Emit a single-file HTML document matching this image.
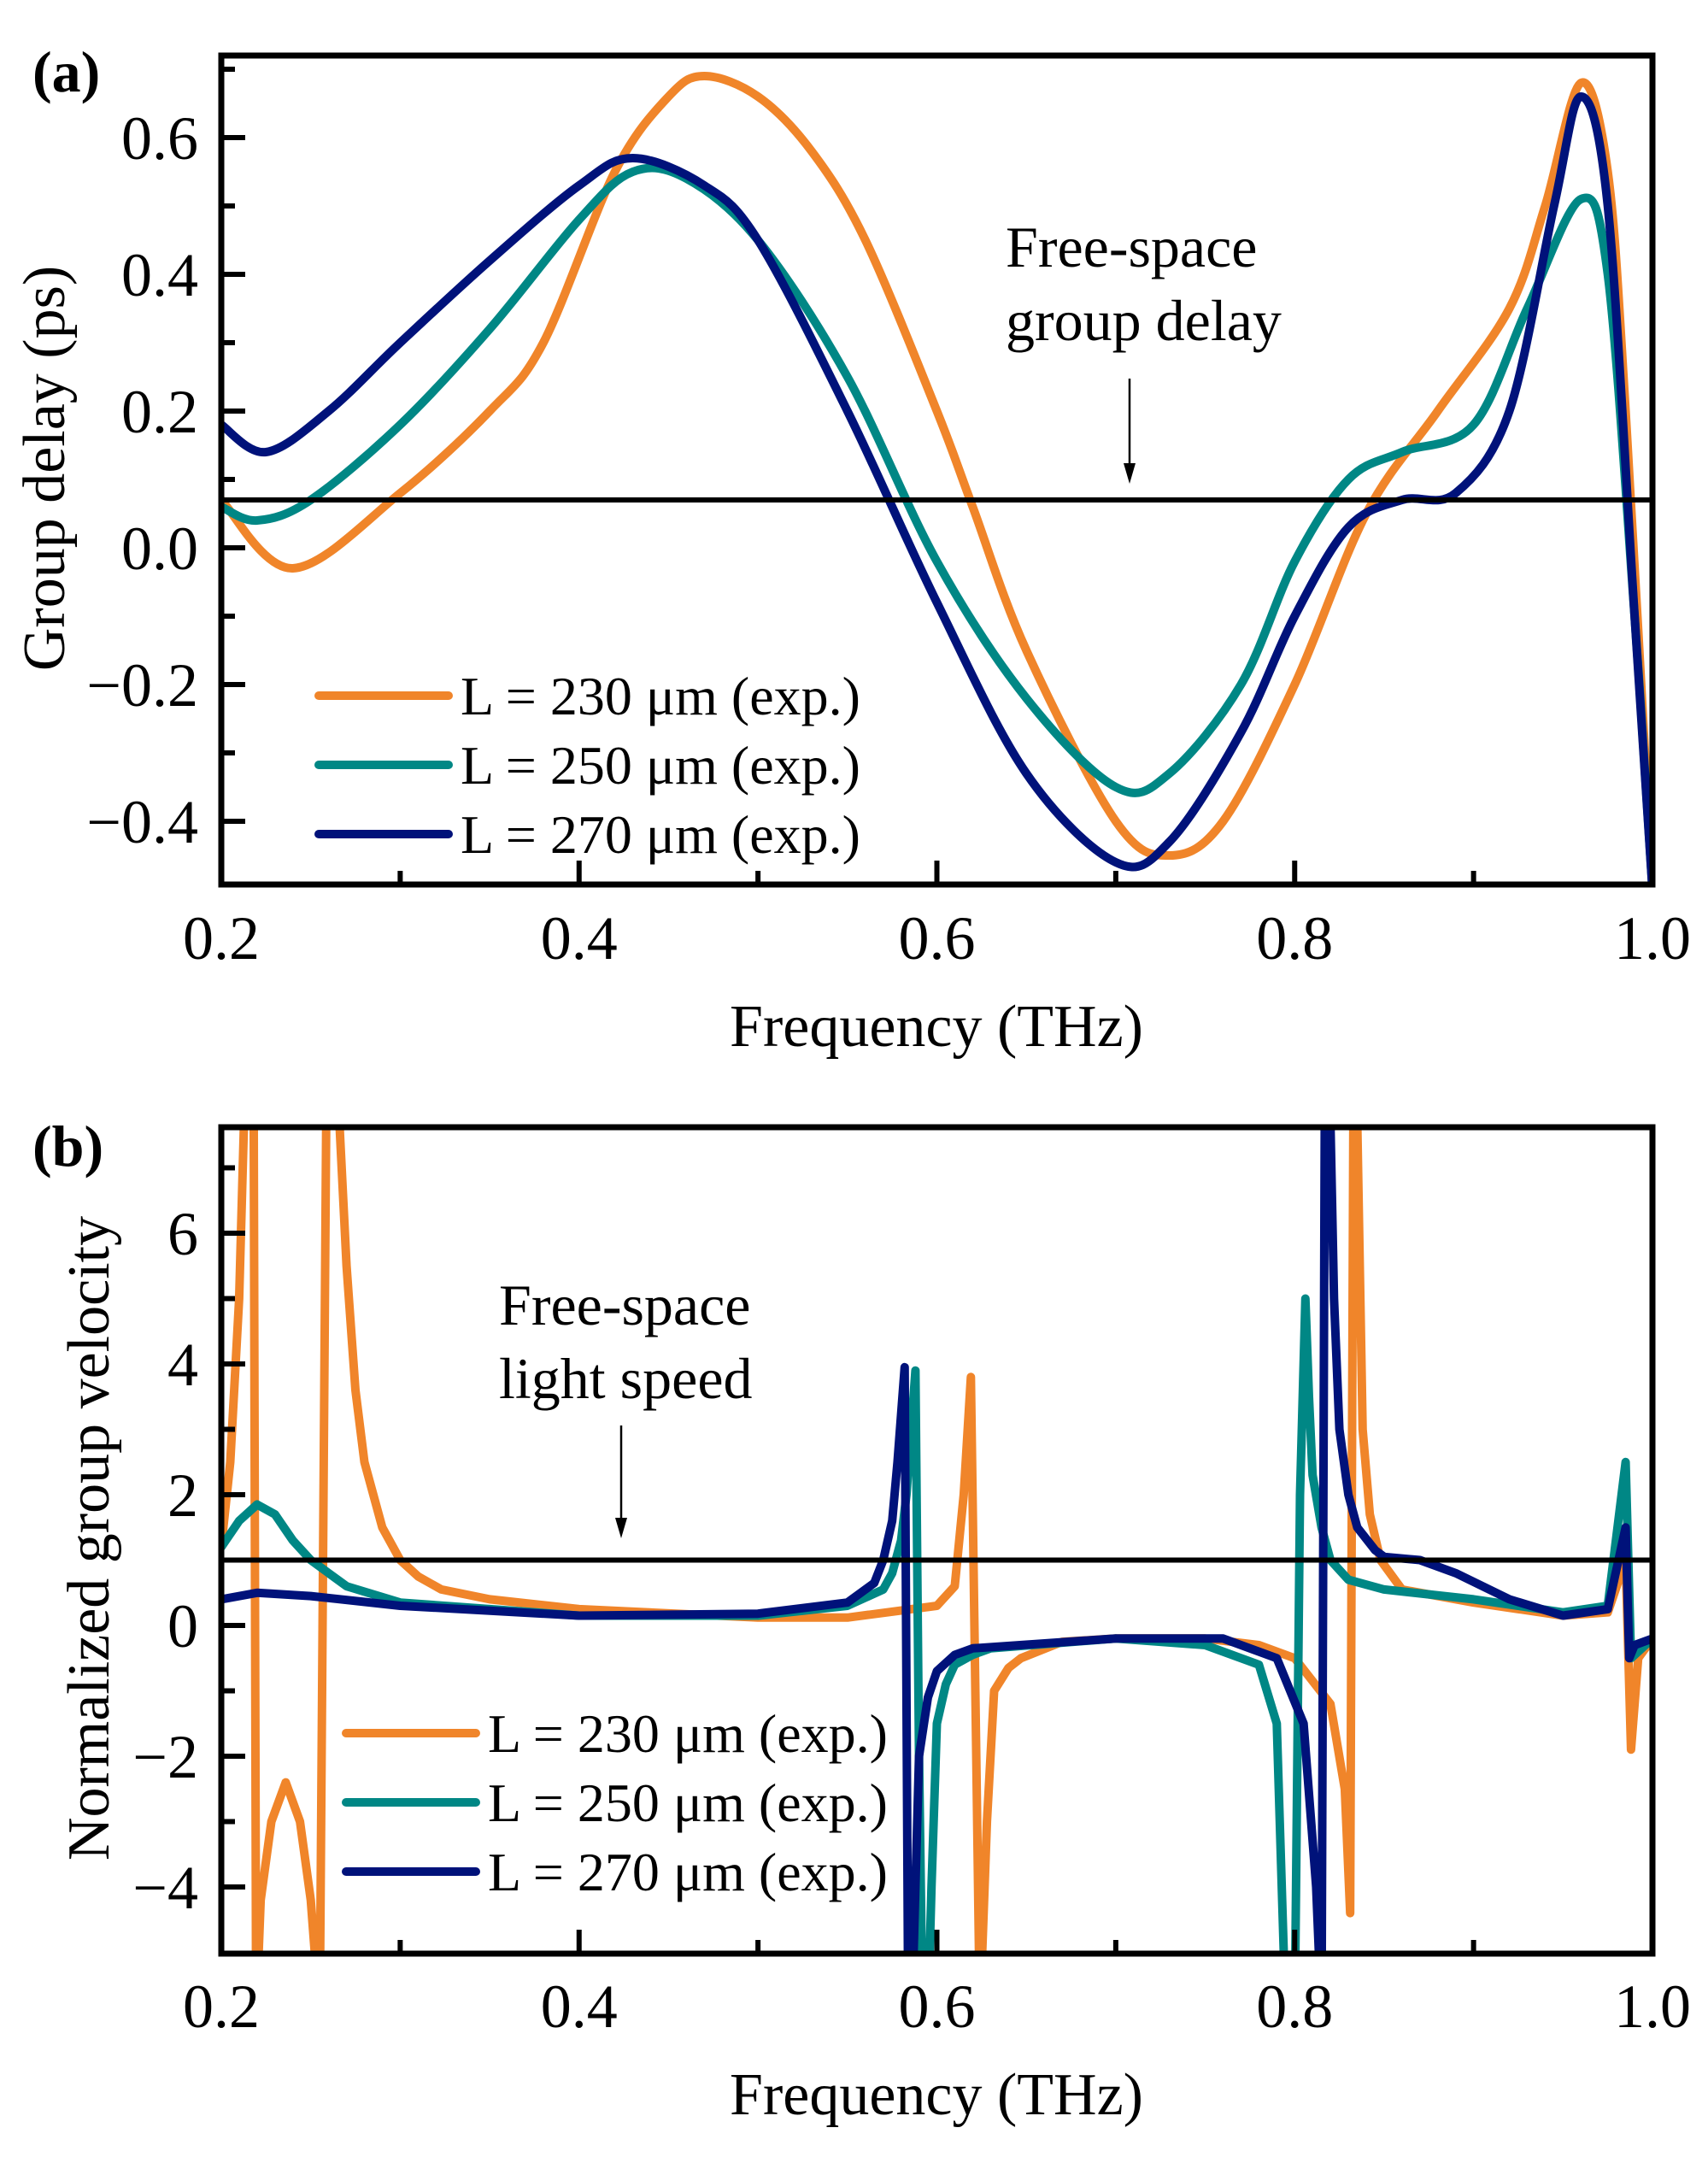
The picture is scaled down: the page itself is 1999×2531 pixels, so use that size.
<!DOCTYPE html>
<html><head><meta charset="utf-8">
<style>
html,body{margin:0;padding:0;background:#fff;}
svg{display:block;font-family:"Liberation Serif","DejaVu Serif",serif;}
</style></head>
<body>
<svg id="fig" width="1999" height="2531" viewBox="0 0 1999 2531" xmlns="http://www.w3.org/2000/svg">
<defs>
<clipPath id="clipA"><rect x="259" y="65" width="1675" height="970"/></clipPath>
<clipPath id="clipB"><rect x="259" y="1319" width="1675" height="967"/></clipPath>
</defs>
<g id="panelA"></g>
<g id="panelB"></g>
</svg>
<script>
const NS="http://www.w3.org/2000/svg";
// ---- Panel (a) data: group delay (ps) ----
const freqA230=[0.2,0.24,0.3,0.35,0.38,0.42,0.45,0.47,0.5,0.53,0.56,0.6,0.62,0.65,0.7,0.73,0.76,0.8,0.84,0.88,0.92,0.94,0.96,0.975,0.985,1.0];
const delayA230=[0.07,-0.03,0.08,0.2,0.3,0.55,0.66,0.69,0.66,0.58,0.45,0.2,0.06,-0.15,-0.4,-0.45,-0.4,-0.2,0.05,0.2,0.35,0.5,0.68,0.55,0.2,-0.5];
const freqA250=[0.2,0.22,0.25,0.3,0.35,0.4,0.43,0.46,0.5,0.55,0.6,0.65,0.7,0.73,0.77,0.8,0.83,0.86,0.9,0.93,0.96,0.975,0.99,1.0];
const delayA250=[0.06,0.04,0.07,0.18,0.32,0.48,0.55,0.54,0.45,0.25,-0.02,-0.22,-0.35,-0.33,-0.2,-0.02,0.1,0.14,0.18,0.35,0.51,0.4,-0.1,-0.5];
const freqA270=[0.2,0.225,0.26,0.3,0.35,0.4,0.43,0.47,0.5,0.55,0.6,0.65,0.7,0.73,0.77,0.8,0.83,0.86,0.89,0.92,0.945,0.96,0.975,0.99,1.0];
const delayA270=[0.18,0.14,0.2,0.3,0.42,0.53,0.57,0.53,0.45,0.2,-0.08,-0.33,-0.46,-0.43,-0.27,-0.1,0.03,0.07,0.08,0.2,0.5,0.66,0.5,-0.1,-0.5];
const freeSpaceDelay=0.07;
const yTicksA=[-0.4,-0.2,0.0,0.2,0.4,0.6];
const yTickLabelsA=["\u22120.4","\u22120.2","0.0","0.2","0.4","0.6"];
// ---- Panel (b) data: normalized group velocity ----
const freqB230=[0.2,0.205,0.21,0.214,0.218,0.2195,0.222,0.228,0.236,0.244,0.25,0.255,0.259,0.262,0.266,0.27,0.275,0.28,0.29,0.3,0.31,0.323,0.35,0.4,0.5,0.55,0.6,0.61,0.615,0.619,0.622,0.624,0.628,0.632,0.64,0.647,0.67,0.7,0.75,0.78,0.8,0.82,0.828,0.831,0.833,0.835,0.838,0.842,0.848,0.86,0.9,0.95,0.975,0.985,0.988,0.992,1.0];
const velB230=[1.2,2.5,5,9,9,-6,-4.2,-3,-2.4,-3,-4.2,-6,9,9,7.7,5.5,3.6,2.5,1.5,1.0,0.75,0.55,0.4,0.25,0.12,0.12,0.3,0.6,2,3.8,-2,-6,-3,-1,-0.65,-0.5,-0.25,-0.2,-0.2,-0.3,-0.5,-1.2,-2.5,-4.4,9,7.7,3,1.7,1.0,0.55,0.35,0.15,0.2,1.0,-1.9,-0.5,-0.2];
const freqB250=[0.2,0.21,0.22,0.23,0.24,0.25,0.27,0.3,0.4,0.5,0.55,0.57,0.575,0.58,0.583,0.588,0.59,0.592,0.595,0.597,0.6,0.605,0.61,0.62,0.63,0.7,0.75,0.78,0.79,0.795,0.8,0.803,0.806,0.808,0.81,0.815,0.82,0.83,0.85,0.9,0.95,0.975,0.985,0.988,1.0];
const velB250=[1.2,1.6,1.85,1.7,1.3,1.0,0.6,0.35,0.15,0.15,0.3,0.55,0.8,1.3,2.0,3.9,-2,-6,-6,-4,-1.5,-0.9,-0.6,-0.45,-0.35,-0.2,-0.3,-0.6,-1.5,-6,-6,2,5.0,3.5,2.3,1.5,1.0,0.7,0.55,0.4,0.2,0.3,2.5,-0.5,-0.2];
const freqB270=[0.2,0.22,0.25,0.3,0.4,0.5,0.55,0.565,0.57,0.575,0.578,0.582,0.584,0.586,0.588,0.59,0.595,0.6,0.61,0.62,0.7,0.76,0.79,0.805,0.812,0.815,0.817,0.82,0.822,0.825,0.83,0.835,0.845,0.85,0.87,0.89,0.92,0.95,0.975,0.985,0.987,0.99,1.0];
const velB270=[0.4,0.5,0.45,0.3,0.15,0.18,0.35,0.65,1.0,1.6,2.5,3.95,-6,-6,-4,-2,-1.1,-0.7,-0.45,-0.35,-0.2,-0.2,-0.5,-1.5,-4,-6,9,7.7,5,3,2,1.5,1.15,1.05,1.0,0.8,0.4,0.15,0.25,1.5,-0.5,-0.3,-0.2];
const freeSpaceSpeed=1;
const yTicksB=[-4,-2,0,2,4,6];
const yTickLabelsB=["\u22124","\u22122","0","2","4","6"];
const xTicks=[0.2,0.4,0.6,0.8,1.0];
const xTickLabels=["0.2","0.4","0.6","0.8","1.0"];
const seriesLabels=["L = 230 \u03bcm (exp.)","L = 250 \u03bcm (exp.)","L = 270 \u03bcm (exp.)"];
const colors=["#F0852A","#008785","#00127A"];

const X0=259,X1=1934;
function xs(f){return X0+(f-0.2)/0.8*(X1-X0);}
function ysA(v){return 641-v*800;}
function ysB(v){return 1902-v*76.5;}

function el(tag,attrs,parent,txt){const e=document.createElementNS(NS,tag);for(const k in attrs)e.setAttribute(k,attrs[k]);if(txt!==undefined)e.textContent=txt;parent.appendChild(e);return e;}

function catmull(pts){let d="M"+pts[0][0].toFixed(1)+","+pts[0][1].toFixed(1);
 for(let i=0;i<pts.length-1;i++){const p0=pts[Math.max(0,i-1)],p1=pts[i],p2=pts[i+1],p3=pts[Math.min(pts.length-1,i+2)];
 const c1=[p1[0]+(p2[0]-p0[0])/6,p1[1]+(p2[1]-p0[1])/6],c2=[p2[0]-(p3[0]-p1[0])/6,p2[1]-(p3[1]-p1[1])/6];
 d+=" C"+c1[0].toFixed(1)+","+c1[1].toFixed(1)+" "+c2[0].toFixed(1)+","+c2[1].toFixed(1)+" "+p2[0].toFixed(1)+","+p2[1].toFixed(1);}
 return d;}
function linear(pts){return "M"+pts.map(p=>p[0].toFixed(1)+","+p[1].toFixed(1)).join(" L");}

function panel(g,o){
 const top=o.top,bot=o.bot;
 const sg=el('g',{'clip-path':o.clip},g);
 o.series.forEach((s,i)=>{
  const pts=s.f.map((f,j)=>[xs(f),o.ys(s.v[j])]);
  const p=el('path',{d:o.smooth?catmull(pts):linear(pts),fill:'none',stroke:colors[i],'stroke-width':10,'stroke-linejoin':'round','stroke-linecap':'round'},sg);
  
  
 });
 const rl=el('line',{x1:X0,x2:X1,y1:o.ys(o.ref),y2:o.ys(o.ref),stroke:'#000','stroke-width':6},g);
 
 
 const fr=el('rect',{x:X0,y:top,width:X1-X0,height:bot-top,fill:'none',stroke:'#000','stroke-width':7},g);
 
 
 for(let f=0.2;f<=1.0001;f+=0.1){const major=Math.abs(Math.round(f*10)%2)==0;
  el('line',{x1:xs(f),x2:xs(f),y1:bot,y2:bot-(major?28:16),stroke:'#000','stroke-width':6},g);}
 xTicks.forEach((f,i)=>{const t=el('text',{x:xs(f),y:o.xlabY,'font-size':72,'text-anchor':'middle'},g,xTickLabels[i]);
  
  });
 o.yMinor.forEach(v=>{if(o.ys(v)>top+3&&o.ys(v)<bot-3)el('line',{x1:X0,x2:X0+16,y1:o.ys(v),y2:o.ys(v),stroke:'#000','stroke-width':6},g);});
 o.yTicks.forEach((v,i)=>{el('line',{x1:X0,x2:X0+28,y1:o.ys(v),y2:o.ys(v),stroke:'#000','stroke-width':6},g);
  const t=el('text',{x:232,y:o.ys(v)+25,'font-size':72,'text-anchor':'end'},g,o.yLabels[i]);
  
  });
 const xt=el('text',{x:1096,y:o.xtitleY,'font-size':70,'text-anchor':'middle'},g,'Frequency (THz)');
 
 
 const yt=el('text',{x:0,y:0,'font-size':70,'text-anchor':'middle',transform:'translate('+o.ytitleX+','+o.ytitleY+') rotate(-90)'},g,o.ytitle);
 
 
 const pl=el('text',{x:38,y:o.plY,'font-size':68,'font-weight':'bold'},g,o.pl);
 
 
 seriesLabels.forEach((lab,i)=>{const y=o.legY+i*81;
  const lg=el('g',{},g);
  
  
  el('line',{x1:o.legX,x2:o.legX+152,y1:y,y2:y,stroke:colors[i],'stroke-width':10,'stroke-linecap':'round'},lg);
  el('text',{x:o.legX+166,y:y+22,'font-size':64},lg,lab);});
 const an=el('g',{},g);
 
 
 el('text',{x:o.annX,y:o.annY,'font-size':68},an,o.ann[0]);
 el('text',{x:o.annX,y:o.annY+86,'font-size':68},an,o.ann[1]);
 el('line',{x1:o.arX,x2:o.arX,y1:o.arY1,y2:o.arY2-18,stroke:'#000','stroke-width':2.5},an);
 el('path',{d:'M'+(o.arX-7)+','+(o.arY2-24)+' L'+(o.arX+7)+','+(o.arY2-24)+' L'+o.arX+','+o.arY2+' Z',fill:'#000'},an);
}
const mA=[];for(let v=-0.5;v<=0.71;v+=0.1)mA.push(Math.round(v*10)/10);
const mB=[];for(let v=-5;v<=7;v+=1)mB.push(v);
panel(document.getElementById('panelA'),{top:65,bot:1035,clip:'url(#clipA)',ys:ysA,smooth:true,ref:freeSpaceDelay,
 series:[{name:'230',f:freqA230,v:delayA230},{name:'250',f:freqA250,v:delayA250},{name:'270',f:freqA270,v:delayA270}],
 yTicks:yTicksA,yLabels:yTickLabelsA,yMinor:mA,xlabY:1122,xtitleY:1224,ytitle:'Group delay (ps)',ytitleX:75,ytitleY:548,
 pl:'(a)',plY:107,legX:373,legY:814,ann:['Free-space','group delay'],annX:1177,annY:312,arX:1322,arY1:443,arY2:566});
panel(document.getElementById('panelB'),{top:1319,bot:2286,clip:'url(#clipB)',ys:ysB,smooth:false,ref:freeSpaceSpeed,
 series:[{name:'230',f:freqB230,v:velB230},{name:'250',f:freqB250,v:velB250},{name:'270',f:freqB270,v:velB270}],
 yTicks:yTicksB,yLabels:yTickLabelsB,yMinor:mB,xlabY:2372,xtitleY:2474,ytitle:'Normalized group velocity',ytitleX:127,ytitleY:1800,
 pl:'(b)',plY:1364,legX:405,legY:2028,ann:['Free-space','light speed'],annX:584,annY:1550,arX:727,arY1:1668,arY2:1800});
</script>
</body></html>
